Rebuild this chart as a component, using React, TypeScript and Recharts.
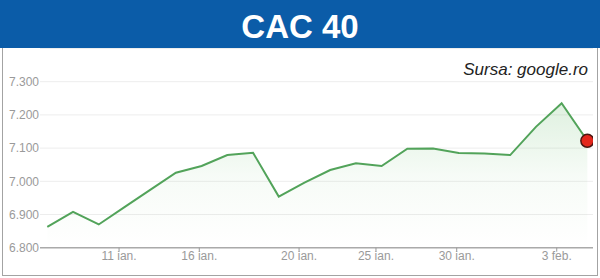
import React from 'react';
import { ComposedChart, Area, XAxis, YAxis, CartesianGrid } from 'recharts';

// Trading-session index (x) and closing values of CAC 40
const sessions = [0, 1, 2, 3, 4, 5, 6, 7, 8, 9, 10, 11, 12, 13, 14, 15, 16, 17, 18, 19, 20, 21];
const values = [6863, 6908, 6870, 6922, 6974, 7026, 7046, 7079, 7086, 6954, 6996, 7034, 7054, 7046, 7098, 7099, 7085, 7084, 7079, 7164, 7235, 7122];

// Date tick labels placed along the session axis
const xTickPositions = [2.79, 5.91, 9.79, 12.78, 15.92, 19.81];
const xTickLabels = ['11 ian.', '16 ian.', '20 ian.', '25 ian.', '30 ian.', '3 feb.'];
const yTicks = [6800, 6900, 7000, 7100, 7200, 7300];

const title = 'CAC 40';
const source = 'Sursa: google.ro';

const data = sessions.map((s, i) => ({ s, v: values[i] }));

const LastDot = (props: any) => {
  const { cx, cy, index } = props;
  if (index !== values.length - 1) return <g key={`d${index}`} />;
  return <circle key={`d${index}`} cx={cx} cy={cy} r={6.5} fill="#e3261b" stroke="#4a1510" strokeWidth={1.5} />;
};

const fmtX = (v: number) => {
  const i = xTickPositions.indexOf(v);
  return i >= 0 ? xTickLabels[i] : '';
};
const fmtY = (v: number) => (v / 1000).toFixed(3);

export default function App() {
  const font = '"Liberation Sans", Arial, sans-serif';
  return (
    <div style={{ position: 'absolute', left: 0, top: 0, width: 600, height: 278, background: '#fff', overflow: 'hidden', fontFamily: font }}>
      <div style={{ position: 'absolute', left: 0, top: 0, width: 600, height: 48, background: '#0b5ca8' }} />
      <div style={{ position: 'absolute', left: 0, top: 3, width: 600, height: 48, lineHeight: '48px', textAlign: 'center', color: '#fff', fontWeight: 'bold', fontSize: 33 }}>
        {title}
      </div>
      <div style={{ position: 'absolute', left: 2, top: 48, width: 594, height: 227, border: '1px solid #a3a3a3', borderTop: 'none' }} />
      <div style={{ position: 'absolute', left: 0, top: 0 }}>
        <ComposedChart width={600} height={278} data={data} margin={{ top: 48.5, right: 7, bottom: 0, left: 0 }}>
          <defs>
            <linearGradient id="areaFill" x1="0" y1="0" x2="0" y2="1">
              <stop offset="0%" stopColor="#4caf50" stopOpacity={0.3} />
              <stop offset="50%" stopColor="#4caf50" stopOpacity={0.08} />
              <stop offset="100%" stopColor="#4caf50" stopOpacity={0} />
            </linearGradient>
          </defs>
          <CartesianGrid vertical={false} stroke="#ededed" strokeWidth={1} />
          <XAxis
            dataKey="s"
            type="number"
            domain={[-0.284, 21.22]}
            ticks={xTickPositions}
            tickFormatter={fmtX}
            interval={0}
            height={30.3}
            axisLine={{ stroke: '#aaaaaa', strokeWidth: 1.5 }}
            tickLine={{ stroke: '#999999' }}
            tickSize={4}
            tickMargin={0}
            tick={{ fill: '#9a9a9a', fontSize: 12, fontFamily: font }}
            allowDataOverflow
          />
          <YAxis
            type="number"
            domain={[6800, 7400]}
            ticks={yTicks}
            tickFormatter={fmtY}
            width={40}
            axisLine={false}
            tickLine={false}
            tickSize={0}
            tickMargin={1}
            interval={0}
            tick={{ fill: '#9a9a9a', fontSize: 12, fontFamily: font }}
          />
          <Area
            type="linear"
            dataKey="v"
            stroke="#52a35a"
            strokeWidth={2}
            fill="url(#areaFill)"
            dot={LastDot}
            activeDot={false}
            isAnimationActive={false}
          />
        </ComposedChart>
      </div>
      <div style={{ position: 'absolute', right: 12, top: 60, fontSize: 17, fontStyle: 'italic', color: '#222', fontFamily: font }}>
        {source}
      </div>
    </div>
  );
}
